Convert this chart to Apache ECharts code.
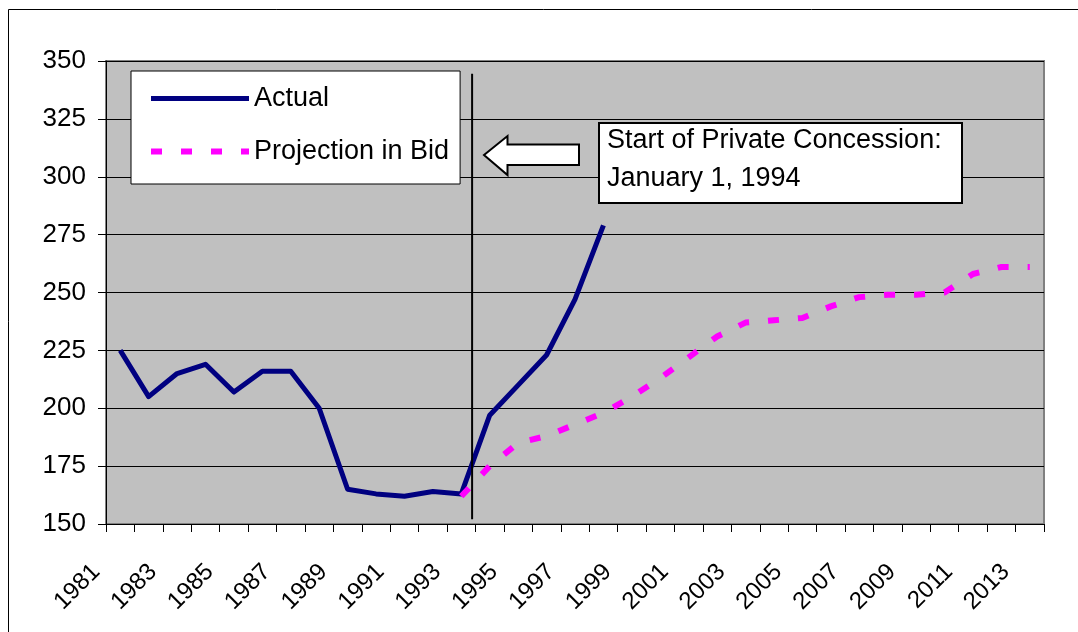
<!DOCTYPE html>
<html>
<head>
<meta charset="utf-8">
<script src="https://cdn.jsdelivr.net/npm/echarts@6/dist/echarts.min.js"></script>
<style>
  html, body { margin: 0; padding: 0; background: #fff; }
  #chart { width: 1078px; height: 632px; }
</style>
</head>
<body>
<div id="chart"></div>
<script>
// ---- data ----
const years = ['1981','1982','1983','1984','1985','1986','1987','1988','1989','1990',
  '1991','1992','1993','1994','1995','1996','1997','1998','1999','2000',
  '2001','2002','2003','2004','2005','2006','2007','2008','2009','2010',
  '2011','2012','2013'];
const actual = [225, 205, 215, 219, 207, 216, 216, 200, 165, 163,
  162, 164, 163, 197, 210, 223, 247, 279];
const projection = [null, null, null, null, null, null, null, null, null, null,
  null, null, 162, 175, 185, 188, 193, 198, 205, 213,
  222, 231, 237, 238, 239, 244, 248, 249, 249, 250,
  258, 261, 261];
const yTicks = { min: 150, max: 350, interval: 25 };
const concessionYear = [1993.38];          // position of vertical marker (on year scale)
const concessionSpan = [152, 344.5];       // value range of the marker line
const seriesNames = ['Actual', 'Projection in Bid'];
const noteLines = ['Start of Private Concession:', 'January 1, 1994'];

const FONT = "'Liberation Sans', Arial, 'DejaVu Sans', sans-serif";
const chart = echarts.init(document.getElementById('chart'));

const markerData = concessionSpan.map(v => [concessionYear[0], v]);

chart.setOption({
  backgroundColor: '#ffffff',
  animation: false,
  grid: {
    left: 106, right: 34, top: 61, bottom: 108,
    show: true, backgroundColor: '#C0C0C0',
    borderColor: '#808080', borderWidth: 2
  },
  legend: {
    orient: 'vertical',
    left: 131, top: 71,
    data: [
      { name: seriesNames[0], lineStyle: { width: 5 } },
      { name: seriesNames[1], lineStyle: { width: 6 } }
    ],
    backgroundColor: '#ffffff',
    borderColor: '#000000', borderWidth: 1,
    padding: [14, 11, 19, 17],
    itemWidth: 98, itemHeight: 14, itemGap: 26,
    itemStyle: { opacity: 0 },
    textStyle: { fontSize: 27, lineHeight: 27, fontFamily: FONT, color: '#000' }
  },
  xAxis: [{
    type: 'category',
    data: years,
    boundaryGap: true,
    axisLine: { show: true, lineStyle: { color: '#000', width: 1 } },
    axisTick: { show: true, interval: 0, length: 8, lineStyle: { color: '#000' } },
    axisLabel: {
      interval: 1, rotate: 45, fontSize: 24, fontFamily: FONT, color: '#000',
      margin: 20, padding: [0, 34, 0, 0]
    },
    splitLine: { show: false }
  }, {
    type: 'value',
    min: 1980.5, max: 2013.5,
    show: false
  }],
  yAxis: {
    type: 'value',
    min: yTicks.min, max: yTicks.max, interval: yTicks.interval,
    axisLine: { show: true, lineStyle: { color: '#000', width: 1 } },
    axisTick: { show: true, length: 8, lineStyle: { color: '#000' } },
    axisLabel: { fontSize: 26, fontFamily: FONT, color: '#000', margin: 20 },
    splitLine: { show: true, lineStyle: { color: '#000', width: 1 } }
  },
  series: [{
    name: seriesNames[0],
    type: 'line',
    data: actual,
    symbol: 'none',
    lineStyle: { color: '#000080', width: 5, join: 'round' },
    itemStyle: { color: '#000080' },
    z: 3
  }, {
    name: seriesNames[1],
    type: 'line',
    data: projection,
    symbol: 'none',
    connectNulls: false,
    lineStyle: { color: '#FF00FF', width: 6, type: [11, 19], cap: 'butt' },
    itemStyle: { color: '#FF00FF' },
    z: 4
  }, {
    name: 'concession',
    type: 'line',
    xAxisIndex: 1,
    data: markerData,
    symbol: 'none',
    lineStyle: { color: '#000', width: 2 },
    silent: true,
    z: 5
  }],
  graphic: [
    { type: 'rect', z: 100, silent: true,
      shape: { x: 8.5, y: 9.5, width: 1100, height: 700 },
      style: { fill: 'none', stroke: '#000', lineWidth: 1 } },
    { type: 'polygon', z: 100, silent: true,
      shape: { points: [[484, 155], [507.5, 136], [507.5, 144.5], [579, 144.5], [579, 165], [507.5, 165], [507.5, 175]] },
      style: { fill: '#fff', stroke: '#000', lineWidth: 2 } },
    { type: 'rect', z: 100, silent: true,
      shape: { x: 599, y: 123, width: 363, height: 80 },
      style: { fill: '#fff', stroke: '#000', lineWidth: 2 } },
    { type: 'text', z: 101, silent: true, x: 607, y: 141,
      style: { text: noteLines[0], fontSize: 27, fontFamily: FONT, fill: '#000', verticalAlign: 'middle', align: 'left' } },
    { type: 'text', z: 101, silent: true, x: 607, y: 179,
      style: { text: noteLines[1], fontSize: 27, fontFamily: FONT, fill: '#000', verticalAlign: 'middle', align: 'left' } }
  ]
});
</script>
</body>
</html>
